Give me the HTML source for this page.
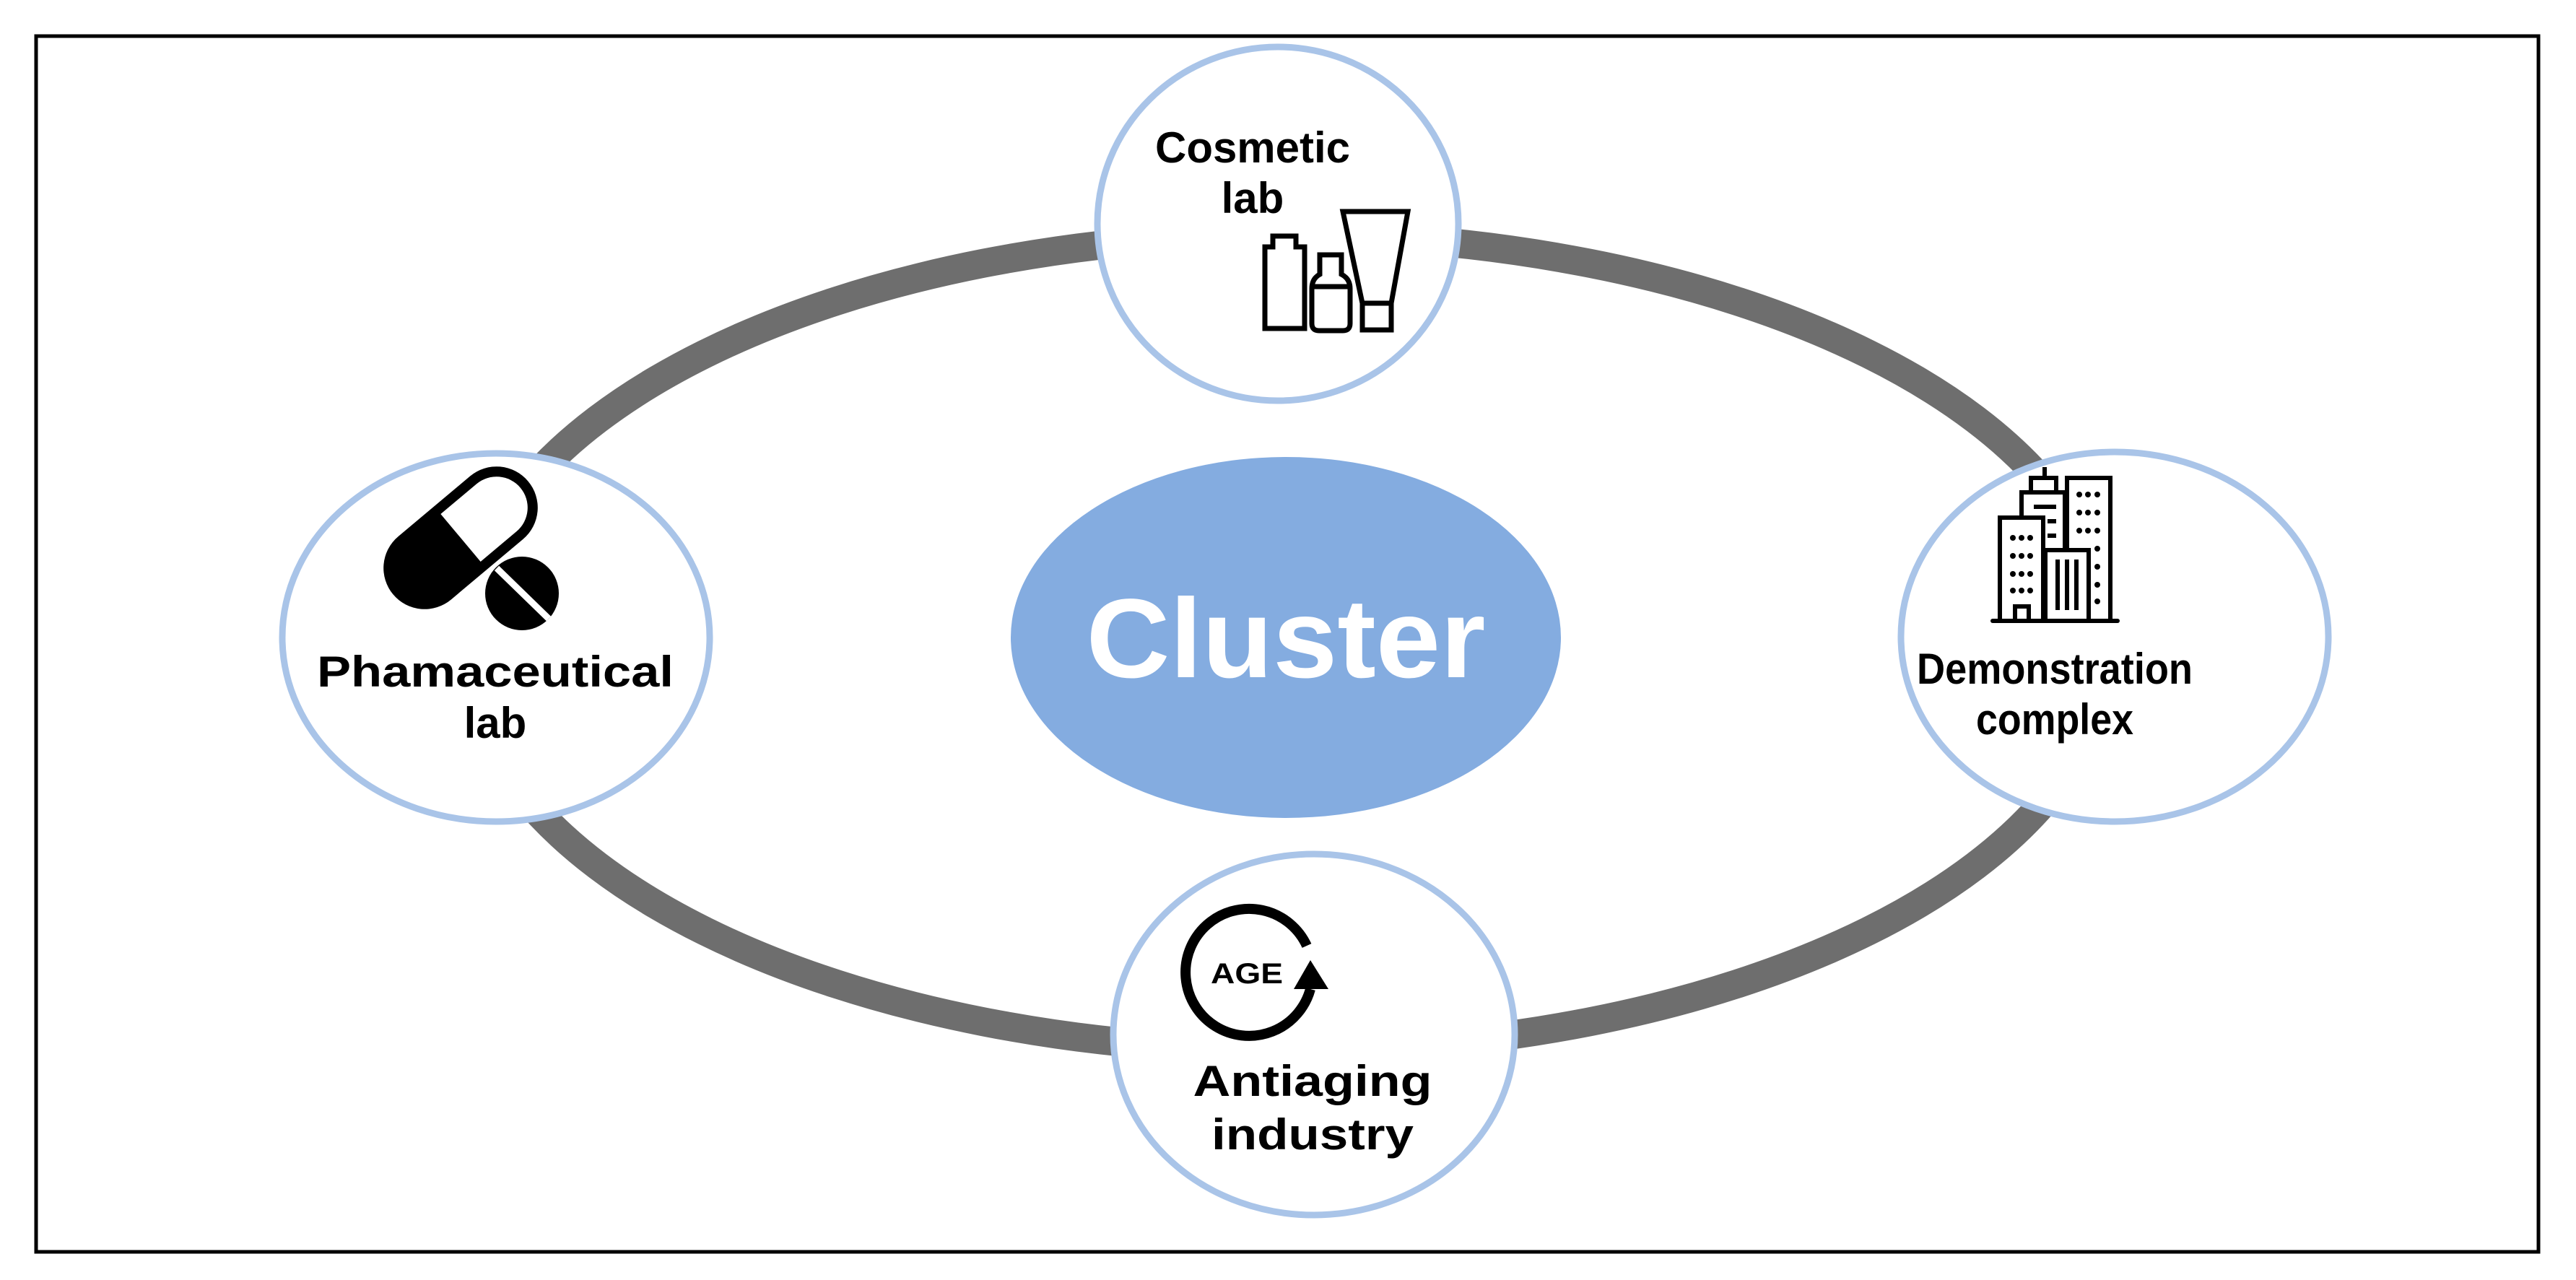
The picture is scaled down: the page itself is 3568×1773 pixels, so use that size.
<!DOCTYPE html>
<html><head><meta charset="utf-8"><style>html,body{margin:0;padding:0;background:#fff}svg{display:block}</style></head>
<body>
<svg width="3568" height="1773" viewBox="0 0 3568 1773" xmlns="http://www.w3.org/2000/svg">
<rect x="0" y="0" width="3568" height="1773" fill="#fff"/>
<rect x="50" y="50" width="3466" height="1684" fill="#fff" stroke="#000" stroke-width="5"/>
<ellipse cx="1782" cy="890" rx="1140" ry="565" fill="none" stroke="#6e6e6e" stroke-width="40"/>
<ellipse cx="1781" cy="883" rx="381" ry="250" fill="#84ACE0"/>
<text x="1781" y="938" text-anchor="middle" font-family="Liberation Sans, sans-serif" font-weight="bold" font-size="156" fill="#fff" textLength="553" lengthAdjust="spacingAndGlyphs">Cluster</text>

<g fill="#fff" stroke="#A9C4E8" stroke-width="9">
<ellipse cx="1770" cy="310" rx="250" ry="245"/>
<ellipse cx="687" cy="883" rx="296" ry="255"/>
<ellipse cx="2929" cy="882" rx="296" ry="256"/>
<ellipse cx="1820" cy="1433" rx="278" ry="250"/>
</g>

<g font-family="Liberation Sans, sans-serif" font-weight="bold" font-size="60" fill="#000" text-anchor="middle">
<text x="1735" y="225" textLength="270" lengthAdjust="spacingAndGlyphs">Cosmetic</text>
<text x="1735" y="295">lab</text>
<text x="686" y="951" textLength="494" lengthAdjust="spacingAndGlyphs">Phamaceutical</text>
<text x="686" y="1022">lab</text>
<text x="2846" y="947" textLength="382" lengthAdjust="spacingAndGlyphs">Demonstration</text>
<text x="2846" y="1017" textLength="218" lengthAdjust="spacingAndGlyphs">complex</text>
<text x="1818" y="1518" textLength="331" lengthAdjust="spacingAndGlyphs">Antiaging</text>
<text x="1818" y="1592" textLength="280" lengthAdjust="spacingAndGlyphs">industry</text>
</g>

<!-- cosmetic icon -->
<g fill="none" stroke="#000" stroke-width="7" stroke-linejoin="miter">
<path d="M1752 455 V342 H1763 V327 H1795 V342 H1807 V455 Z"/>
<path d="M1828 380 V353 H1858 V380 Q1870 386 1870 400 V448 Q1870 458 1860 458 H1827 Q1817 458 1817 448 V400 Q1817 386 1828 380 Z"/>
<line x1="1817" y1="397" x2="1870" y2="397"/>
<path d="M1860 293 H1950 L1927 420 H1887 Z"/>
<rect x="1887" y="420" width="40" height="37"/>
</g>

<!-- pill icon -->
<g transform="translate(638,745) rotate(-40)">
<rect x="-122" y="-57" width="244" height="114" rx="57" fill="#000"/>
<path d="M0 -43 H65 A43 43 0 0 1 65 43 H0 Z" fill="#fff"/>
</g>
<circle cx="723" cy="822" r="51" fill="#000"/>
<line x1="688" y1="787" x2="760" y2="857" stroke="#fff" stroke-width="9"/>

<!-- AGE icon -->
<path d="M1810 1310 A88 88 0 1 0 1815 1370" fill="none" stroke="#000" stroke-width="14"/>
<polygon points="1815,1330 1840,1370 1792,1370" fill="#000"/>
<text x="1727" y="1362" text-anchor="middle" font-family="Liberation Sans, sans-serif" font-weight="bold" font-size="40" textLength="100" lengthAdjust="spacingAndGlyphs">AGE</text>

<!-- building icon -->
<g fill="none" stroke="#000" stroke-width="6">
<line x1="2760" y1="860" x2="2933" y2="860" stroke-linecap="round"/>
<path d="M2770 860 V717 H2830 V860"/>
<path d="M2800 717 V682 H2860 V762"/>
<path d="M2813 682 V662 H2848 V682"/>
<line x1="2832" y1="662" x2="2832" y2="647"/>
<path d="M2863 762 V662 H2923 V860"/>
<path d="M2833 860 V762 H2893 V860"/>
<line x1="2817" y1="702" x2="2848" y2="702"/>
<line x1="2836" y1="722" x2="2848" y2="722"/>
<line x1="2836" y1="742" x2="2848" y2="742"/>
<line x1="2850" y1="775" x2="2850" y2="845"/>
<line x1="2863" y1="775" x2="2863" y2="845"/>
<line x1="2876" y1="775" x2="2876" y2="845"/>
<path d="M2791 860 V840 H2810 V860"/>
</g>
<g fill="#000">
<circle cx="2788" cy="745" r="4"/><circle cx="2800" cy="745" r="4"/><circle cx="2812" cy="745" r="4"/>
<circle cx="2788" cy="770" r="4"/><circle cx="2800" cy="770" r="4"/><circle cx="2812" cy="770" r="4"/>
<circle cx="2788" cy="795" r="4"/><circle cx="2800" cy="795" r="4"/><circle cx="2812" cy="795" r="4"/>
<circle cx="2788" cy="818" r="4"/><circle cx="2800" cy="818" r="4"/><circle cx="2812" cy="818" r="4"/>
<circle cx="2880" cy="685" r="4"/><circle cx="2892" cy="685" r="4"/><circle cx="2905" cy="685" r="4"/>
<circle cx="2880" cy="710" r="4"/><circle cx="2892" cy="710" r="4"/><circle cx="2905" cy="710" r="4"/>
<circle cx="2880" cy="735" r="4"/><circle cx="2892" cy="735" r="4"/><circle cx="2905" cy="735" r="4"/>
<circle cx="2905" cy="760" r="4"/><circle cx="2905" cy="785" r="4"/><circle cx="2905" cy="810" r="4"/><circle cx="2905" cy="833" r="4"/>
</g>
</svg>
</body></html>
